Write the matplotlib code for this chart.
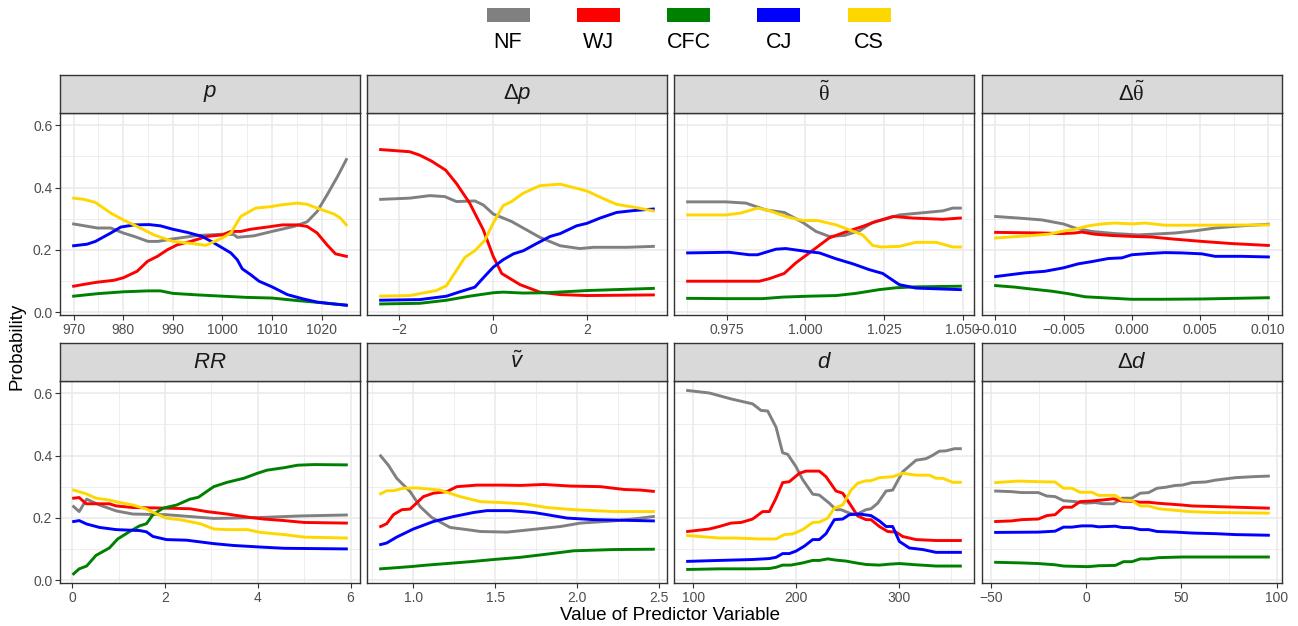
import matplotlib
matplotlib.use("Agg")
import matplotlib.pyplot as plt
from matplotlib.patches import Rectangle
from matplotlib.ticker import FixedLocator

plt.rcParams['font.family'] = ['Liberation Sans', 'DejaVu Sans']
plt.rcParams['mathtext.fontset'] = 'custom'
plt.rcParams['mathtext.rm'] = 'Liberation Sans'
plt.rcParams['mathtext.it'] = 'Liberation Sans:italic'
plt.rcParams['mathtext.sf'] = 'Liberation Serif'

classes = ["NF", "WJ", "CFC", "CJ", "CS"]
colours = ["#808080", "#FF0000", "#008000", "#0000FF", "#FFD700"]

# ---- partial dependence curves, one dict per predictor: class -> (x, prob)
p_curves = {
    "NF": ([970, 974.8, 977.5, 980, 982.2, 985, 987, 990, 995, 1000, 1002.3, 1003, 1006.4, 1010,
            1014.4, 1017.1, 1019.1, 1021.1, 1023.2, 1025],
           [0.283, 0.27, 0.27, 0.254, 0.243, 0.227, 0.227, 0.235, 0.246, 0.25, 0.249, 0.24, 0.245,
            0.259, 0.275, 0.29, 0.323, 0.376, 0.435, 0.49]),
    "WJ": ([970, 972.1, 974.8, 978.1, 980, 982.8, 984.9, 986.9, 988.9, 990.9, 993.6, 996.9, 1000,
            1001.7, 1003.7, 1005.7, 1009, 1012.1, 1015.1, 1017.1, 1019.1, 1021.1, 1022.8, 1025],
           [0.083, 0.089, 0.096, 0.102, 0.11, 0.131, 0.163, 0.179, 0.2, 0.216, 0.227, 0.243, 0.248,
            0.259, 0.259, 0.266, 0.273, 0.28, 0.28, 0.275, 0.254, 0.216, 0.187, 0.179]),
    "CFC": ([970, 974.8, 980, 985, 987.5, 990, 995, 1000, 1005, 1010, 1015, 1020, 1025],
            [0.051, 0.059, 0.065, 0.068, 0.068, 0.06, 0.055, 0.051, 0.047, 0.045, 0.037, 0.03, 0.022]),
    "CJ": ([970, 972.7, 974.4, 977.5, 979.5, 982.2, 985.2, 987.5, 990, 992.9, 995.9, 998.3, 1000,
            1001.7, 1003, 1004, 1005.7, 1007.4, 1010, 1013.1, 1016.1, 1019.1, 1021.8, 1025],
           [0.213, 0.218, 0.227, 0.254, 0.273, 0.28, 0.281, 0.277, 0.266, 0.256, 0.243, 0.222, 0.206,
            0.19, 0.168, 0.139, 0.12, 0.099, 0.081, 0.056, 0.043, 0.032, 0.027, 0.022]),
    "CS": ([970, 972.1, 974.4, 977.5, 980, 982.8, 986.2, 990, 992.9, 995.9, 996.6, 1000, 1001.7,
            1003.7, 1006.7, 1010, 1011.7, 1015.1, 1017.1, 1019.1, 1022.5, 1023.8, 1025],
           [0.366, 0.362, 0.352, 0.318, 0.296, 0.275, 0.248, 0.227, 0.222, 0.216, 0.214, 0.238, 0.254,
            0.307, 0.334, 0.339, 0.344, 0.35, 0.346, 0.334, 0.315, 0.302, 0.28]),
}

dp_curves = {
    "NF": ([-2.39, -1.77, -1.35, -1.03, -0.78, -0.39, -0.21, 0, 0.39, 0.99, 1.42, 1.84, 2.13, 2.84, 3.4],
           [0.362, 0.366, 0.374, 0.371, 0.355, 0.357, 0.344, 0.315, 0.291, 0.24, 0.213, 0.204, 0.208,
            0.208, 0.211]),
    "WJ": ([-2.39, -1.77, -1.56, -1.31, -1.01, -0.78, -0.5, -0.21, 0, 0.18, 0.57, 0.99, 1.42, 1.99, 3.4],
           [0.522, 0.515, 0.504, 0.485, 0.456, 0.413, 0.35, 0.264, 0.179, 0.124, 0.088, 0.064, 0.056,
            0.053, 0.055]),
    "CFC": ([-2.39, -1.56, -0.99, -0.5, 0, 0.21, 0.64, 1.13, 1.99, 3.4],
            [0.026, 0.028, 0.038, 0.051, 0.062, 0.064, 0.061, 0.062, 0.069, 0.076]),
    "CJ": ([-2.39, -1.56, -0.99, -0.71, -0.39, -0.21, 0, 0.21, 0.43, 0.64, 0.92, 1.21, 1.42, 1.77,
            1.99, 2.27, 2.62, 2.98, 3.4],
           [0.038, 0.04, 0.051, 0.065, 0.08, 0.11, 0.144, 0.168, 0.187, 0.197, 0.22, 0.243, 0.252,
            0.277, 0.285, 0.302, 0.32, 0.326, 0.331]),
    "CS": ([-2.39, -1.77, -1.21, -0.99, -0.6, -0.39, -0.18, 0, 0.21, 0.39, 0.64, 0.99, 1.42, 1.99,
            2.27, 2.62, 2.98, 3.4],
           [0.051, 0.053, 0.069, 0.085, 0.176, 0.197, 0.23, 0.286, 0.342, 0.355, 0.382, 0.406, 0.411,
            0.389, 0.369, 0.346, 0.337, 0.325]),
}

theta_curves = {
    "NF": ([0.9626, 0.9748, 0.9811, 0.9875, 0.9933, 0.9992, 1.0034, 1.0076, 1.0124, 1.0172, 1.0214,
            1.0257, 1.0299, 1.0384, 1.0437, 1.0469, 1.0493],
           [0.354, 0.354, 0.35, 0.328, 0.32, 0.288, 0.259, 0.243, 0.246, 0.261, 0.288, 0.299, 0.312,
            0.32, 0.325, 0.334, 0.334]),
    "WJ": ([0.9626, 0.9854, 0.9885, 0.9933, 0.997, 1.0013, 1.0076, 1.0119, 1.0182, 1.0225, 1.0278,
            1.0342, 1.0437, 1.0493],
           [0.099, 0.099, 0.107, 0.124, 0.158, 0.19, 0.238, 0.254, 0.275, 0.291, 0.307, 0.302, 0.298,
            0.302]),
    "CFC": ([0.9626, 0.9758, 0.9864, 0.9928, 1.0013, 1.0098, 1.0161, 1.0235, 1.0289, 1.0352, 1.0493],
            [0.044, 0.043, 0.043, 0.048, 0.051, 0.053, 0.06, 0.072, 0.078, 0.081, 0.083]),
    "CJ": ([0.9626, 0.9758, 0.9822, 0.9848, 0.9907, 0.9938, 1.0002, 1.0045, 1.0098, 1.0151, 1.0204,
            1.0246, 1.0299, 1.0352, 1.0493],
           [0.19, 0.192, 0.184, 0.184, 0.202, 0.204, 0.195, 0.19, 0.171, 0.155, 0.136, 0.124, 0.088,
            0.077, 0.072]),
    "CS": ([0.9626, 0.9748, 0.9795, 0.9848, 0.9885, 0.9938, 0.9992, 1.0039, 1.0098, 1.014, 1.0182,
            1.0214, 1.0241, 1.0299, 1.0352, 1.0416, 1.0469, 1.0493],
           [0.312, 0.312, 0.318, 0.334, 0.326, 0.307, 0.294, 0.294, 0.28, 0.264, 0.248, 0.214, 0.209,
            0.211, 0.224, 0.224, 0.209, 0.209]),
}

dtheta_curves = {
    "NF": ([-0.00998, -0.00831, -0.0066, -0.00501, -0.00416, -0.00293, -0.00122, 0.00049, 0.00147,
            0.00318, 0.00465, 0.00611, 0.00807, 0.01002],
           [0.307, 0.302, 0.296, 0.283, 0.27, 0.259, 0.252, 0.248, 0.25, 0.254, 0.261, 0.27, 0.277,
            0.282]),
    "WJ": ([-0.00998, -0.0066, -0.00513, -0.00416, -0.00367, -0.00269, -0.00147, 0, 0.00147, 0.00318,
            0.00513, 0.00733, 0.01002],
           [0.256, 0.254, 0.252, 0.254, 0.257, 0.25, 0.246, 0.243, 0.241, 0.234, 0.227, 0.22, 0.214]),
    "CFC": ([-0.00998, -0.00856, -0.00758, -0.00587, -0.00465, -0.00342, -0.00171, 0, 0.0022,
             0.00513, 0.01002],
            [0.085, 0.08, 0.075, 0.067, 0.059, 0.049, 0.045, 0.041, 0.041, 0.042, 0.046]),
    "CJ": ([-0.00998, -0.00782, -0.00636, -0.00501, -0.00391, -0.00293, -0.00171, -0.00073, 0,
            0.00122, 0.00244, 0.00367, 0.00513, 0.00611, 0.00807, 0.01002],
           [0.114, 0.126, 0.131, 0.142, 0.155, 0.162, 0.172, 0.174, 0.184, 0.188, 0.191, 0.19, 0.187,
            0.179, 0.179, 0.177]),
    "CS": ([-0.00998, -0.00758, -0.00611, -0.00513, -0.00416, -0.00318, -0.0022, -0.00122, 0,
            0.00098, 0.00244, 0.00562, 0.01002],
           [0.238, 0.245, 0.25, 0.259, 0.266, 0.277, 0.283, 0.286, 0.283, 0.286, 0.279, 0.279, 0.28]),
}

rr_curves = {
    "NF": ([0.03, 0.15, 0.31, 0.59, 0.95, 1.31, 2.03, 2.54, 3.05, 3.48, 4.06, 4.93, 5.91],
           [0.236, 0.22, 0.26, 0.241, 0.222, 0.212, 0.21, 0.204, 0.198, 0.199, 0.201, 0.206, 0.209]),
    "WJ": ([0.03, 0.15, 0.3, 0.59, 0.8, 0.95, 1.31, 2.03, 2.54, 2.9, 3.34, 3.84, 4.13, 4.57, 5.0, 5.91],
           [0.263, 0.265, 0.245, 0.245, 0.245, 0.238, 0.233, 0.231, 0.229, 0.22, 0.212, 0.201, 0.196,
            0.191, 0.185, 0.183]),
    "CFC": ([0.03, 0.15, 0.31, 0.51, 0.8, 0.98, 1.24, 1.45, 1.6, 1.74, 1.96, 2.25, 2.54, 2.72, 3.05,
             3.34, 3.7, 3.99, 4.2, 4.57, 4.86, 5.22, 5.91],
            [0.02, 0.036, 0.045, 0.079, 0.103, 0.132, 0.156, 0.174, 0.181, 0.21, 0.231, 0.241, 0.26,
             0.266, 0.3, 0.314, 0.327, 0.343, 0.353, 0.361, 0.369, 0.371, 0.37]),
    "CJ": ([0.03, 0.15, 0.31, 0.59, 0.95, 1.45, 1.6, 1.74, 2.03, 2.47, 3.05, 3.48, 4.06, 4.57, 5.91],
           [0.188, 0.191, 0.18, 0.169, 0.162, 0.159, 0.155, 0.14, 0.13, 0.128, 0.117, 0.111, 0.106,
            0.102, 0.1]),
    "CS": ([0.03, 0.3, 0.51, 0.8, 1.02, 1.31, 1.6, 1.82, 2.03, 2.32, 2.76, 3.05, 3.34, 3.77, 4.06,
            4.57, 5.0, 5.91],
           [0.289, 0.277, 0.263, 0.257, 0.249, 0.241, 0.228, 0.212, 0.199, 0.194, 0.181, 0.164, 0.162,
            0.162, 0.153, 0.146, 0.138, 0.135]),
}

v_curves = {
    "NF": ([0.8, 0.847, 0.898, 0.98, 1.041, 1.112, 1.224, 1.327, 1.408, 1.571, 1.755, 1.898, 2.02,
            2.224, 2.388, 2.465],
           [0.399, 0.369, 0.327, 0.284, 0.236, 0.201, 0.169, 0.162, 0.156, 0.154, 0.164, 0.172, 0.183,
            0.19, 0.199, 0.204]),
    "WJ": ([0.8, 0.837, 0.878, 0.929, 0.98, 1.061, 1.122, 1.204, 1.265, 1.388, 1.531, 1.653, 1.796,
            1.959, 2.143, 2.286, 2.388, 2.465],
           [0.172, 0.181, 0.21, 0.226, 0.228, 0.268, 0.279, 0.284, 0.3, 0.305, 0.305, 0.304, 0.307,
            0.302, 0.3, 0.291, 0.289, 0.285]),
    "CFC": ([0.8, 0.98, 1.082, 1.204, 1.347, 1.49, 1.653, 1.796, 1.98, 2.224, 2.465],
            [0.036, 0.043, 0.048, 0.053, 0.059, 0.066, 0.073, 0.082, 0.094, 0.098, 0.099]),
    "CJ": ([0.8, 0.837, 0.898, 1.0, 1.122, 1.245, 1.367, 1.449, 1.592, 1.735, 1.816, 1.939, 2.102,
            2.465],
           [0.114, 0.119, 0.138, 0.164, 0.188, 0.204, 0.217, 0.223, 0.223, 0.217, 0.21, 0.199, 0.194,
            0.19]),
    "CS": ([0.8, 0.837, 0.878, 0.939, 1.02, 1.082, 1.163, 1.286, 1.408, 1.531, 1.673, 1.816, 1.98,
            2.224, 2.465],
           [0.277, 0.287, 0.287, 0.295, 0.296, 0.293, 0.289, 0.268, 0.252, 0.249, 0.245, 0.233, 0.226,
            0.22, 0.22]),
}

d_curves = {
    "NF": ([94.5, 115.5, 136.6, 157.6, 165.7, 172.2, 180.3, 186.7, 191.6, 199.7, 206.1, 215.9, 222.3,
            232, 238.5, 243.4, 251.5, 257.9, 267.6, 272.5, 279, 287.1, 293.5, 303.2, 316.2, 325.9,
            332.4, 338.8, 345.3, 353.4, 359.2],
           [0.609, 0.601, 0.582, 0.566, 0.545, 0.543, 0.491, 0.409, 0.404, 0.364, 0.323, 0.276, 0.273,
            0.247, 0.226, 0.226, 0.215, 0.21, 0.226, 0.229, 0.247, 0.286, 0.289, 0.348, 0.385, 0.39,
            0.401, 0.414, 0.415, 0.422, 0.422]),
    "WJ": ([94.5, 115.5, 125.2, 136.6, 146.3, 157.6, 167.3, 173.8, 180.3, 186.7, 193.2, 202.9, 209.4,
            222.3, 228.8, 238.5, 245, 251.5, 259.5, 267.6, 272.5, 280.6, 288.7, 296.8, 303.2, 316.2,
            335.6, 359.2],
           [0.156, 0.164, 0.172, 0.183, 0.185, 0.196, 0.22, 0.22, 0.263, 0.313, 0.316, 0.343, 0.35,
            0.35, 0.332, 0.286, 0.279, 0.247, 0.206, 0.194, 0.194, 0.172, 0.156, 0.154, 0.14, 0.13,
            0.127, 0.127]),
    "CFC": ([94.5, 125.2, 157.6, 173.8, 180.3, 186.7, 194.8, 206.1, 215.9, 222.3, 230.4, 238.5,
             248.2, 257.9, 267.6, 280.6, 290.3, 300, 316.2, 335.6, 359.2],
            [0.034, 0.036, 0.036, 0.037, 0.041, 0.048, 0.048, 0.055, 0.063, 0.063, 0.068, 0.064,
             0.061, 0.055, 0.05, 0.048, 0.051, 0.053, 0.049, 0.045, 0.045]),
    "CJ": ([94.5, 125.2, 157.6, 173.8, 180.3, 186.7, 193.2, 199.7, 207.8, 215.9, 222.3, 228.8, 236.9,
            245, 251.5, 261.2, 272.5, 280.6, 287.1, 293.5, 300, 309.7, 322.7, 335.6, 359.2],
           [0.06, 0.063, 0.066, 0.069, 0.073, 0.085, 0.085, 0.093, 0.109, 0.13, 0.13, 0.149, 0.194,
            0.196, 0.21, 0.212, 0.207, 0.19, 0.172, 0.172, 0.124, 0.103, 0.098, 0.089, 0.089]),
    "CS": ([94.5, 125.2, 141.4, 164.1, 180.3, 188.3, 196.4, 206.1, 215.9, 222.3, 230.4, 236.9, 245,
            253.1, 259.5, 267.6, 272.5, 280.6, 293.5, 303.2, 316.2, 329.1, 335.6, 342.1, 351.8, 359.2],
           [0.143, 0.135, 0.135, 0.132, 0.132, 0.146, 0.148, 0.162, 0.185, 0.186, 0.199, 0.231, 0.241,
            0.289, 0.311, 0.319, 0.319, 0.329, 0.332, 0.343, 0.337, 0.337, 0.327, 0.327, 0.314,
            0.314]),
}

dd_curves = {
    "NF": ([-47.5, -39.1, -33.9, -25.1, -20.7, -16.3, -11.9, -5.8, -0.5, 4.7, 9.1, 14.4, 18.8, 24.0,
            28.4, 32.8, 37.2, 41.6, 46.8, 50.4, 55.6, 62.6, 67.9, 78.4, 87.2, 95.6],
           [0.286, 0.284, 0.281, 0.281, 0.27, 0.268, 0.255, 0.252, 0.247, 0.249, 0.245, 0.245, 0.263,
            0.263, 0.279, 0.281, 0.295, 0.298, 0.304, 0.305, 0.313, 0.315, 0.321, 0.329, 0.332,
            0.334]),
    "WJ": ([-47.5, -39.1, -33.9, -25.1, -20.7, -16.3, -11.9, -7.5, -3.2, 3.0, 8.2, 14.4, 18.8, 24.0,
            28.4, 32.8, 37.2, 41.6, 50.4, 55.6, 67.9, 95.6],
           [0.188, 0.19, 0.194, 0.196, 0.207, 0.21, 0.234, 0.234, 0.252, 0.254, 0.257, 0.261, 0.254,
            0.253, 0.25, 0.25, 0.247, 0.245, 0.241, 0.238, 0.236, 0.231]),
    "CFC": ([-47.5, -33.9, -25.1, -16.3, -11.9, -5.8, 1.2, 6.5, 15.3, 19.6, 24.0, 28.4, 32.8, 38.1,
             50.4, 64.4, 95.6],
            [0.057, 0.055, 0.053, 0.049, 0.045, 0.044, 0.043, 0.046, 0.047, 0.059, 0.059, 0.068, 0.068,
             0.072, 0.074, 0.074, 0.074]),
    "CJ": ([-47.5, -25.1, -16.3, -11.9, -7.5, -2.3, 3.0, 6.5, 15.3, 18.8, 24.0, 28.4, 32.8, 37.2,
            46.8, 55.6, 67.9, 78.4, 95.6],
           [0.153, 0.154, 0.157, 0.17, 0.17, 0.174, 0.174, 0.171, 0.173, 0.169, 0.168, 0.162, 0.162,
            0.156, 0.154, 0.151, 0.149, 0.146, 0.144]),
    "CS": ([-47.5, -35.6, -25.1, -16.3, -11.9, -7.5, -3.2, 3.0, 6.5, 15.3, 18.8, 24.0, 28.4, 32.8,
            38.1, 53.9, 67.9, 95.6],
           [0.313, 0.318, 0.316, 0.315, 0.295, 0.295, 0.282, 0.282, 0.272, 0.272, 0.257, 0.255, 0.238,
            0.238, 0.229, 0.22, 0.217, 0.215]),
}

# facet titles, x breaks and tick labels in facet order
titles = [r"$p$", r"$\Delta p$", r"$\tilde{\mathsf{\theta}}$", r"$\Delta\tilde{\mathsf{\theta}}$",
          r"$RR$", r"$\tilde{v}$", r"$d$", r"$\Delta d$"]
curves = [p_curves, dp_curves, theta_curves, dtheta_curves, rr_curves, v_curves, d_curves, dd_curves]
x_breaks = [[970, 980, 990, 1000, 1010, 1020], [-2, 0, 2], [0.975, 1.0, 1.025, 1.05],
            [-0.01, -0.005, 0.0, 0.005, 0.01], [0, 2, 4, 6], [1.0, 1.5, 2.0, 2.5],
            [100, 200, 300], [-50, 0, 50, 100]]
x_labels = [["970", "980", "990", "1000", "1010", "1020"], ["\u22122", "0", "2"],
            ["0.975", "1.000", "1.025", "1.050"],
            ["\u22120.010", "\u22120.005", "0.000", "0.005", "0.010"], ["0", "2", "4", "6"],
            ["1.0", "1.5", "2.0", "2.5"], ["100", "200", "300"], ["\u221250", "0", "50", "100"]]
y_breaks = [0.0, 0.2, 0.4, 0.6]
y_labels = ["0.0", "0.2", "0.4", "0.6"]

W, H = 1298, 626
fig = plt.figure(figsize=(W / 100, H / 100), dpi=100)

grid_col = "#EBEBEB"
frame_col = "#333333"
tick_col = "#4D4D4D"

panel_w = 300
panel_h = 202
strip_h = 38
lefts = [60, 367, 674, 982]
tops = [113, 381]          # top edge of plotting area in pixels from the top
ylo, yhi = -0.0095, 0.6395

for k, (title, cur) in enumerate(zip(titles, curves)):
    row, col = divmod(k, 4)
    left, top = lefts[col], tops[row]
    ax = fig.add_axes([left / W, 1 - (top + panel_h) / H, panel_w / W, panel_h / H])

    xs_all = [v for c in cur.values() for v in c[0]]
    x0, x1 = min(xs_all), max(xs_all)
    pad = 0.05 * (x1 - x0)
    ax.set_xlim(x0 - pad, x1 + pad)
    ax.set_ylim(ylo, yhi)

    # major and minor grid like theme_bw
    xb = x_breaks[k]
    step = xb[1] - xb[0]
    minors = [b - step / 2 for b in xb] + [xb[-1] + step / 2]
    minors = [m for m in minors if x0 - pad <= m <= x1 + pad]
    for m in minors:
        ax.axvline(m, color=grid_col, lw=0.6, zorder=0)
    for m in [0.1, 0.3, 0.5]:
        ax.axhline(m, color=grid_col, lw=0.6, zorder=0)
    for b in xb:
        ax.axvline(b, color=grid_col, lw=1.2, zorder=0)
    for b in y_breaks:
        ax.axhline(b, color=grid_col, lw=1.2, zorder=0)

    for name, colour in zip(classes, colours):
        xs, ys = cur[name]
        ax.plot(xs, ys, color=colour, lw=2.1, solid_joinstyle='round', zorder=2)

    ax.set_xticks(xb)
    ax.set_xticklabels(x_labels[k])
    if col == 0:
        ax.set_yticks(y_breaks)
        ax.set_yticklabels(y_labels)
    else:
        ax.set_yticks([])
    ax.tick_params(axis='both', length=3.5, width=0.8, color=frame_col, labelcolor=tick_col,
                   labelsize=10, pad=2)
    for s in ax.spines.values():
        s.set_color(frame_col)
        s.set_linewidth(1.0)

    # facet strip
    sax = fig.add_axes([left / W, 1 - top / H, panel_w / W, strip_h / H])
    sax.set_facecolor("#D9D9D9")
    sax.set_xticks([])
    sax.set_yticks([])
    for s in sax.spines.values():
        s.set_color(frame_col)
        s.set_linewidth(1.0)
    sax.text(0.5, 0.5, title, ha='center', va='center', fontsize=16, color="#1A1A1A",
             transform=sax.transAxes)

# legend across the top: colour key above each class name
for i, (name, colour) in enumerate(zip(classes, colours)):
    cx = 508 + i * 90.3
    fig.patches.append(Rectangle(((cx - 21.5) / W, 1 - 22 / H), 43 / W, 14 / H,
                                 facecolor=colour, edgecolor='none', transform=fig.transFigure))
    fig.text(cx / W, 1 - 43 / H, name, ha='center', va='center', fontsize=15.5, color='black')

fig.text(17 / W, 1 - 346 / H, "Probability", rotation=90, ha='center', va='center', fontsize=13.5)
fig.text(670 / W, 1 - 615 / H, "Value of Predictor Variable", ha='center', va='center',
         fontsize=13.5)

fig.savefig("out.png", dpi=100)
